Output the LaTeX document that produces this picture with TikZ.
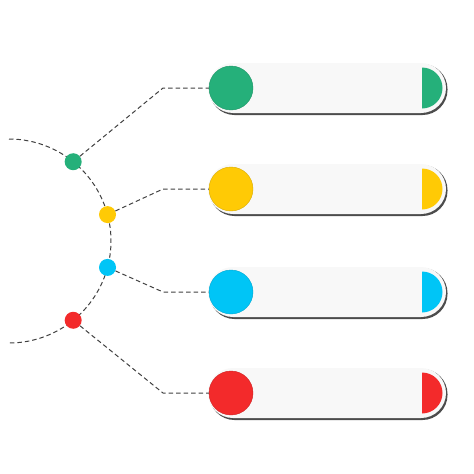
\documentclass[tikz,border=0pt]{standalone}
\usetikzlibrary{positioning}
\definecolor{cgreen}{HTML}{25B07A}
\definecolor{cyellow}{HTML}{FFCA05}
\definecolor{cblue}{HTML}{00C5F6}
\definecolor{cred}{HTML}{F32A2B}
\definecolor{barfill}{HTML}{F8F8F8}
\tikzset{
	link/.style={draw=black!75,line width=1pt,dash pattern=on 4.5pt off 3pt},
	dot/.style={circle,fill=#1,minimum size=17pt,inner sep=0pt},
	disc/.style={circle,fill=#1,draw=#1!85!black,line width=0.4pt,minimum size=44pt,inner sep=0pt}
}
\begin{document}
\begin{tikzpicture}[x=1pt,y=-1pt]
		\useasboundingbox (0,0) rectangle (474,474);
		\draw[link] plot[domain=90:-90,samples=80,smooth] ({9+102*cos(\x)},{241-102*sin(\x)});
		\foreach \yc/\col/\nm/\ang in {88/cgreen/a/51,189/cyellow/b/15,292/cblue/c/-15,393/cred/d/-51} {
			\fill[black!70,rounded corners=25pt] (209.5,\yc-24) rectangle (447.5,\yc+27);
			\fill[barfill,rounded corners=25pt] (208,\yc-25) rectangle (446,\yc+25);
			\begin{scope} \clip (422,\yc-30) rectangle (460,\yc+30); \fill[\col] (422,\yc) circle[radius=20.5pt]; \end{scope}
			\node[disc=\col] (bar\nm) at (231,\yc) {};
			\coordinate (k\nm) at (163,\yc);
			\node[dot=\col] (dot\nm) at ({9+102*cos(\ang)},{241-102*sin(\ang)}) {};
			\draw[link] (dot\nm) -- (k\nm) -- (bar\nm.west);
		}
	\end{tikzpicture}
\end{document}
